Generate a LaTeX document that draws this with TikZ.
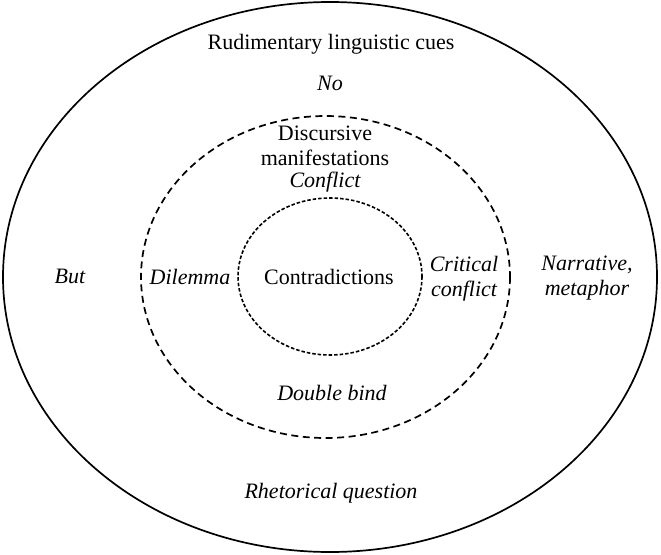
\documentclass[tikz,border=0pt]{standalone}
\usepackage{fontspec}
\setmainfont{Liberation Serif}
\begin{document}
\begin{tikzpicture}[x=1pt,y=-1pt,
  lbl/.style={font=\fontsize{22}{25}\selectfont, align=center, inner sep=0pt},
  ilbl/.style={lbl, font=\fontsize{22}{25}\selectfont\itshape},
  ring/.style={line width=1.7pt},
  dashring/.style={line width=1.7pt, dash pattern=on 7pt off 4.5pt},
  dotring/.style={line width=1.6pt, dash pattern=on 3.5pt off 2pt}]
\useasboundingbox (0,0) rectangle (661,554);
% three nested layers
\draw[ring] (330,277) ellipse [x radius=327, y radius=275];
\draw[dashring] (325.5,277) ellipse [x radius=184.5, y radius=161];
\draw[dotring] (330,276.5) ellipse [x radius=92, y radius=78.5];
% outer layer
\node[lbl] (cues) at (331,44) {Rudimentary linguistic cues};
\node[ilbl] (no) at (330,83) {No};
\node[ilbl] (but) at (70,276) {But};
\node[ilbl] (narr) at (587,278) {Narrative,\\metaphor};
\node[ilbl] (rq) at (331,493) {Rhetorical question};
% middle layer
\node[lbl] (disc) at (325,146) {Discursive\\manifestations};
\node[ilbl] (confl) at (325,182) {Conflict};
\node[ilbl] (dil) at (190,277) {Dilemma};
\node[ilbl] (crit) at (464,279) {Critical\\conflict};
\node[ilbl] (db) at (332,393) {Double bind};
% core
\node[lbl] (contr) at (329,277) {Contradictions};
\end{tikzpicture}
\end{document}
